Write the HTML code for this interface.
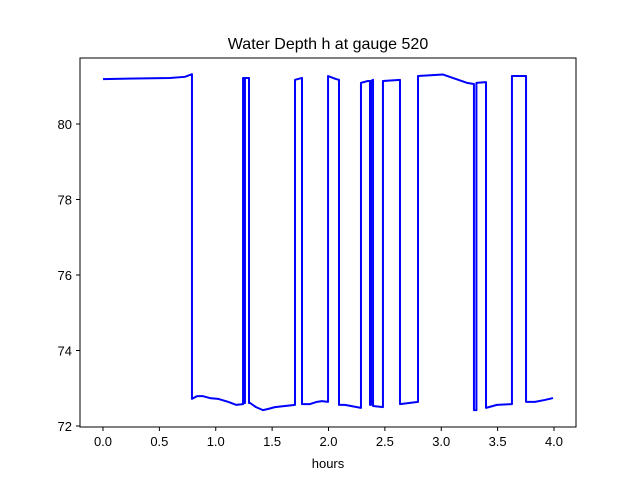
<!DOCTYPE html>
<html><head><meta charset="utf-8"><style>
body{margin:0;background:#fff;}
svg{display:block;font-family:"Liberation Sans","DejaVu Sans",sans-serif;}
</style></head><body>
<svg id="chart" width="640" height="480">
<rect width="640" height="480" fill="#fff"/>
<text x="328" y="49" font-size="16" text-anchor="middle">Water Depth h at gauge 520</text>
<text x="328" y="468" font-size="13" text-anchor="middle">hours</text>
<g id="xt"></g>
<g id="yt"></g>
<path id="line" fill="none" stroke="#0000ff" stroke-width="2" stroke-linejoin="round"/>
<rect x="80" y="58" width="496" height="369" fill="none" stroke="#000" stroke-width="1"/>
</svg>
<script>
const hours=[0,0.594,0.727,0.789,0.789,0.834,0.887,0.949,1.020,1.109,1.180,1.242,1.242,1.251,1.251,1.259,1.259,1.295,1.295,1.304,1.357,1.419,1.463,1.525,1.614,1.703,1.703,1.765,1.765,1.836,1.898,1.942,1.996,1.996,2.067,2.093,2.093,2.146,2.288,2.288,2.350,2.368,2.368,2.377,2.377,2.395,2.395,2.483,2.483,2.634,2.634,2.794,2.794,3.016,3.228,3.290,3.290,3.312,3.312,3.397,3.397,3.494,3.627,3.627,3.752,3.752,3.831,3.920,3.991];
const depth=[81.19,81.22,81.25,81.32,72.72,72.79,72.79,72.74,72.72,72.64,72.56,72.58,81.22,81.22,72.61,72.61,81.22,81.22,72.61,72.61,72.50,72.42,72.45,72.50,72.53,72.56,81.17,81.22,72.58,72.58,72.64,72.66,72.64,81.27,81.19,81.17,72.56,72.56,72.48,81.09,81.14,81.14,72.56,72.56,81.14,81.17,72.53,72.50,81.14,81.17,72.58,72.64,81.27,81.31,81.09,81.06,72.42,72.42,81.09,81.11,72.48,72.56,72.58,81.27,81.27,72.64,72.64,72.69,72.74];
const xTicks=[0,0.5,1,1.5,2,2.5,3,3.5,4];
const xTickLabels=["0.0","0.5","1.0","1.5","2.0","2.5","3.0","3.5","4.0"];
const yTicks=[72,74,76,78,80];
const yTickLabels=["72","74","76","78","80"];
const X=t=>103+112.75*t;
const Y=v=>426-37.75*(v-72);
const NS="http://www.w3.org/2000/svg";
let d="";
hours.forEach((t,i)=>{d+=(i?"L":"M")+X(t).toFixed(2)+","+Y(depth[i]).toFixed(2);});
document.getElementById("line").setAttribute("d",d);
const xt=document.getElementById("xt");
xTicks.forEach((t,i)=>{
  const l=document.createElementNS(NS,"line");
  l.setAttribute("x1",X(t));l.setAttribute("x2",X(t));l.setAttribute("y1",427);l.setAttribute("y2",431);l.setAttribute("stroke","#000");
  
  
  xt.appendChild(l);
  const tx=document.createElementNS(NS,"text");
  tx.setAttribute("x",X(t));tx.setAttribute("y",446);tx.setAttribute("font-size","13");tx.setAttribute("text-anchor","middle");
  tx.textContent=xTickLabels[i];
  
  
  xt.appendChild(tx);
});
const yt=document.getElementById("yt");
yTicks.forEach((v,i)=>{
  const l=document.createElementNS(NS,"line");
  l.setAttribute("x1",76);l.setAttribute("x2",80);l.setAttribute("y1",Y(v));l.setAttribute("y2",Y(v));l.setAttribute("stroke","#000");
  
  
  yt.appendChild(l);
  const tx=document.createElementNS(NS,"text");
  tx.setAttribute("x",72);tx.setAttribute("y",Y(v)+5);tx.setAttribute("font-size","13");tx.setAttribute("text-anchor","end");
  tx.textContent=yTickLabels[i];
  
  
  yt.appendChild(tx);
});
</script>
</body></html>
